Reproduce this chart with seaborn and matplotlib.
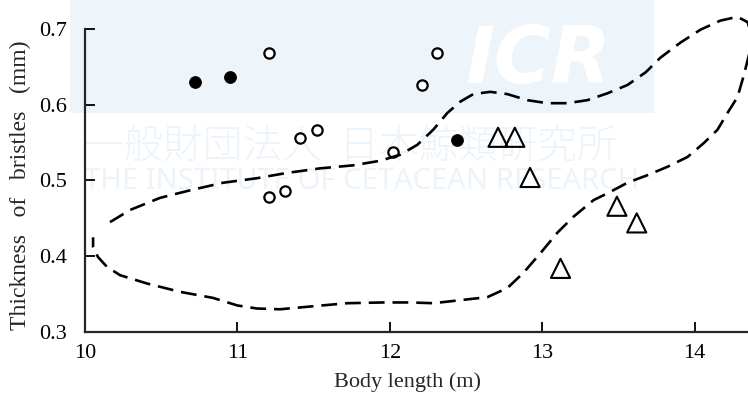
import matplotlib
matplotlib.use("Agg")
import matplotlib.pyplot as plt
import seaborn as sns
import pandas as pd
from matplotlib.patches import Rectangle

# ---- data ----
filled_x = [10.72, 10.95, 12.44]
filled_y = [0.630, 0.637, 0.553]

open_x = [11.21, 12.31, 12.21, 11.41, 11.52, 11.21, 11.31, 12.02]
open_y = [0.668, 0.668, 0.626, 0.556, 0.566, 0.478, 0.486, 0.538]

tri_x = [12.71, 12.82, 12.92, 13.49, 13.62, 13.12]
tri_y = [0.557, 0.557, 0.504, 0.466, 0.444, 0.384]

curve_x = [10.164, 10.295, 10.492, 10.689, 10.906, 11.129, 11.326, 11.543, 11.760,
           11.937, 12.068, 12.180, 12.285, 12.377, 12.462, 12.548, 12.659, 12.771,
           12.902, 13.033, 13.165, 13.296, 13.427, 13.559, 13.680, 13.775, 13.907,
           14.038, 14.169, 14.281, 14.347, 14.380, 14.353, 14.320, 14.281, 14.215,
           14.150, 14.058, 13.953, 13.821, 13.690, 13.559, 13.447, 13.336, 13.204,
           13.099, 12.988, 12.876, 12.771, 12.640, 12.462, 12.285, 12.134, 11.957,
           11.720, 11.497, 11.280, 11.129, 11.000, 10.840, 10.624, 10.407, 10.230,
           10.144, 10.085, 10.053, 10.053]
curve_y = [0.445, 0.461, 0.477, 0.487, 0.497, 0.503, 0.510, 0.516, 0.520,
           0.526, 0.534, 0.547, 0.567, 0.589, 0.604, 0.614, 0.617, 0.614,
           0.606, 0.602, 0.602, 0.606, 0.615, 0.626, 0.643, 0.662, 0.682,
           0.699, 0.711, 0.716, 0.709, 0.688, 0.663, 0.637, 0.610, 0.589,
           0.567, 0.549, 0.531, 0.518, 0.507, 0.497, 0.485, 0.474, 0.452,
           0.431, 0.404, 0.378, 0.358, 0.346, 0.342, 0.338, 0.339, 0.339,
           0.338, 0.334, 0.330, 0.331, 0.335, 0.345, 0.353, 0.364, 0.375,
           0.386, 0.399, 0.412, 0.425]

x_ticks = [10, 11, 12, 13, 14]
y_ticks = [0.3, 0.4, 0.5, 0.6, 0.7]
y_tick_labels = ["0.3", "0.4", "0.5", "0.6", "0.7"]
x_label = "Body length (m)"
y_label = "Thickness   of   bristles   (mm)"

# ---- style ----
sns.set_style("ticks")
plt.rcParams["font.family"] = ["Liberation Serif", "DejaVu Serif"]

fig = plt.figure(figsize=(7.48, 3.98), dpi=100)

# watermark band
fig.patches.append(Rectangle((70 / 748, (398 - 113) / 398), 584 / 748, 113 / 398,
                             transform=fig.transFigure, facecolor="#edf5fb",
                             edgecolor="none", zorder=0))
fig.text(0.72, 0.847, "ICR", color="white", fontsize=56, fontweight="bold",
         fontstyle="italic", family=["DejaVu Sans"], ha="center", va="center", zorder=1)
fig.text(0.468, 0.631, "一般財団法人  日本鯨類研究所", color="#ecf3f9", fontsize=28.5,
         family=["Noto Sans CJK JP", "DejaVu Sans"], fontweight="light",
         ha="center", va="center", zorder=1)
fig.text(0.484, 0.543, "THE INSTITUTE OF CETACEAN RESEARCH", color="#ecf3f9", fontsize=21,
         family=["Noto Sans", "DejaVu Sans"], fontweight="light",
         ha="center", va="center", zorder=1)

ax = fig.add_axes([85 / 748, (398 - 332) / 398, (748 - 85) / 748, (332 - 10) / 398])
ax.patch.set_visible(False)
ax.set_zorder(2)

curve_df = pd.DataFrame({"x": curve_x, "y": curve_y})
sns.lineplot(data=curve_df, x="x", y="y", sort=False, estimator=None, ax=ax,
             color="black", linewidth=1.9)
ln = ax.lines[-1]
ln.set_linestyle((0, (6.0, 3.0)))
ln.set_dash_joinstyle("round")

sns.scatterplot(x=filled_x, y=filled_y, ax=ax, color="black", s=75,
                edgecolor="black", linewidth=0.5, marker="o")
sns.scatterplot(x=open_x, y=open_y, ax=ax, facecolor="white", s=55,
                edgecolor="black", linewidth=1.6, marker="o")
sns.scatterplot(x=tri_x, y=tri_y, ax=ax, facecolor="none", s=190,
                edgecolor="black", linewidth=1.5, marker="^")

ax.set_xlim(10, 14.35)
ax.set_ylim(0.3, 0.725)
ax.spines["top"].set_visible(False)
ax.spines["right"].set_visible(False)
ax.spines["left"].set_bounds(0.3, 0.7)
ax.spines["left"].set_linewidth(1.6)
ax.spines["bottom"].set_linewidth(1.6)

ax.set_xticks(x_ticks)
ax.set_yticks(y_ticks)
ax.set_yticklabels(y_tick_labels)
ax.tick_params(axis="both", direction="in", length=7, width=1.3, labelsize=16,
               colors="black")
ax.tick_params(axis="x", pad=9)
ax.tick_params(axis="y", pad=13)

ax.set_xlabel(x_label, fontsize=16)
ax.set_ylabel(y_label, fontsize=17)
ax.xaxis.set_label_coords(0.486, -0.125)
ax.yaxis.set_label_coords(-0.082, 0.456)

fig.savefig("out.png", dpi=100)
